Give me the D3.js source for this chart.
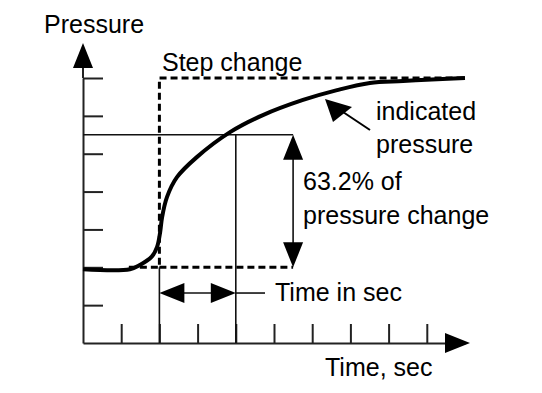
<!DOCTYPE html>
<html lang="en">
<head>
<meta charset="UTF-8">
<script src="https://cdn.jsdelivr.net/npm/d3@7"></script>
<title>Pressure step response</title>
<style>
    body { margin: 0; background: #fff; }
    text { font-family: "Liberation Sans", Arial, sans-serif; font-size: 25px; fill: #000; }
    .axis .domain, .axis .tick line { stroke: #222; stroke-width: 2; }
</style>
</head>
<body>
<div id="canvas"></div>
<script>
    // tick positions (unlabelled)
    var xTicks = [1, 2, 3, 4, 5, 6, 7, 8, 9];
    var yTicks = [1, 2, 3, 4, 5, 6, 7];

    // indicated pressure
    var curveTime     = [0, 1.23, 1.49, 1.8, 1.94, 2.02, 2.07, 2.2, 2.46, 2.98, 3.85, 4.71, 5.76, 6.65, 7.51, 8.38, 9.27, 10];
    var curvePressure = [1.95, 1.95, 2.06, 2.28, 2.54, 2.93, 3.32, 3.86, 4.38, 4.91, 5.57, 6.02, 6.42, 6.68, 6.87, 6.92, 6.97, 7.0];

    // step change (dashed)
    var stepTime     = [1.2, 2, 2, 10];
    var stepPressure = [2, 2, 7, 7];
    var baseTime  = [2, 5.5];   // dashed baseline after the step

    var tauTime = 4;            // time constant mark
    var level632 = 5.5;         // 63.2% line
    var arrowTime = 5.5;        // vertical double arrow
    var timeArrowP = 1.32;      // "time in sec" arrow height

    var x = d3.scaleLinear().domain([0, 10]).range([83, 465]);
    var y = d3.scaleLinear().domain([0, 7]).range([343, 78]);

    var svg = d3.select("#canvas").append("svg")
            .attr("width", 542)
            .attr("height", 393);

    // axes
    svg.append("g")
            .classed("axis", true)
            .attr("transform", "translate(0," + y(0) + ")")
            .call(d3.axisBottom(x).tickValues(xTicks).tickFormat("").tickSizeInner(-19).tickSizeOuter(0));
    svg.append("g")
            .classed("axis", true)
            .attr("transform", "translate(" + x(0) + ",0)")
            .call(d3.axisLeft(y).tickValues(yTicks).tickFormat("").tickSizeInner(-20).tickSizeOuter(0));
    svg.selectAll(".axis text").remove();

    // axis extensions + arrowheads
    svg.append("line").attr("x1", x(10)).attr("x2", 446).attr("y1", y(0)).attr("y2", y(0))
            .attr("stroke", "#222").attr("stroke-width", 2);
    svg.append("line").attr("x1", x(0)).attr("x2", x(0)).attr("y1", y(7)).attr("y2", 67)
            .attr("stroke", "#222").attr("stroke-width", 2);
    svg.append("path").attr("d", "M445,333L470,343L445,353Z").attr("fill", "#000");
    svg.append("path").attr("d", "M73,68L83,43L93,68Z").attr("fill", "#000");

    var thin = function (x1, y1, x2, y2) {
        return svg.append("line")
                .attr("x1", x1).attr("y1", y1).attr("x2", x2).attr("y2", y2)
                .attr("stroke", "#111").attr("stroke-width", 1.6);
    };

    // 63.2% line and time constant mark
    thin(x(0), y(level632), x(arrowTime), y(level632));
    thin(x(tauTime), y(level632), x(tauTime), y(0));
    thin(x(2), y(2), x(2), y(0));

    // vertical double arrow
    thin(x(arrowTime), y(level632) + 20, x(arrowTime), y(2) - 20);
    svg.append("path").attr("fill", "#000")
            .attr("d", "M" + x(arrowTime) + "," + y(level632) + "l-10,25h20Z");
    svg.append("path").attr("fill", "#000")
            .attr("d", "M" + x(arrowTime) + "," + y(2) + "l-10,-25h20Z");

    // horizontal "time in sec" arrow
    thin(x(2) + 20, y(timeArrowP), x(tauTime) - 20, y(timeArrowP));
    thin(x(tauTime), y(timeArrowP), 265, y(timeArrowP));
    svg.append("path").attr("fill", "#000")
            .attr("d", "M" + x(2) + "," + y(timeArrowP) + "l25,-10v20Z");
    svg.append("path").attr("fill", "#000")
            .attr("d", "M" + x(tauTime) + "," + y(timeArrowP) + "l-25,-10v20Z");

    // step change dashed
    var stepLine = d3.line().x(function (d) { return x(d[0]); }).y(function (d) { return y(d[1]); });
    svg.append("path")
            .attr("d", stepLine(d3.zip(stepTime, stepPressure)))
            .attr("fill", "none").attr("stroke", "#000").attr("stroke-width", 3)
            .attr("stroke-dasharray", "7,4");
    svg.append("path")
            .attr("d", stepLine(baseTime.map(function (t) { return [t, 2]; })))
            .attr("fill", "none").attr("stroke", "#000").attr("stroke-width", 3)
            .attr("stroke-dasharray", "7,4");

    // indicated pressure curve
    var curve = d3.line()
            .x(function (d) { return x(d[0]); })
            .y(function (d) { return y(d[1]); })
            .curve(d3.curveCatmullRom.alpha(0.5));
    svg.append("path")
            .attr("d", curve(d3.zip(curveTime, curvePressure)))
            .attr("fill", "none").attr("stroke", "#000").attr("stroke-width", 4);

    // pointer to curve
    svg.append("line").attr("x1", 370).attr("y1", 130).attr("x2", 340).attr("y2", 110)
            .attr("stroke", "#000").attr("stroke-width", 2);
    svg.append("path").attr("d", "M325,99L352,107L333,122Z").attr("fill", "#000");

    // texts
    var label = function (tx, ty, s) {
        svg.append("text").attr("x", tx).attr("y", ty).text(s);
    };
    label(44, 33, "Pressure");
    label(162, 71, "Step change");
    label(376, 120, "indicated");
    label(376, 153, "pressure");
    label(303, 190, "63.2% of");
    label(303, 224, "pressure change");
    label(275, 301, "Time in sec");
    label(325, 376, "Time, sec");
</script>
</body>
</html>
